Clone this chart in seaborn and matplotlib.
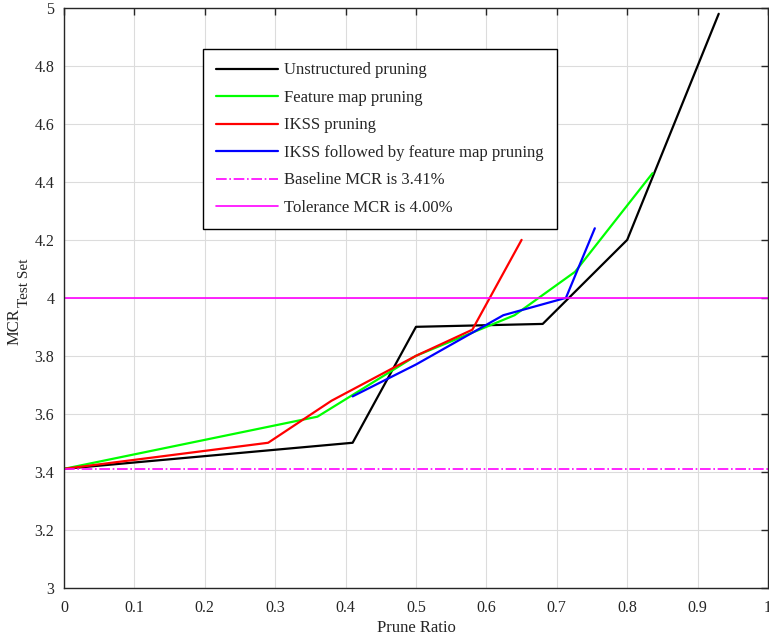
import pandas as pd
import seaborn as sns
import matplotlib.pyplot as plt

# values
unstructured_x = [0.0, 0.41, 0.50, 0.68, 0.80, 0.93]
unstructured_y = [3.41, 3.50, 3.90, 3.91, 4.20, 4.98]
featmap_x = [0.0, 0.36, 0.50, 0.64, 0.726, 0.836]
featmap_y = [3.41, 3.59, 3.80, 3.94, 4.09, 4.43]
ikss_x = [0.0, 0.29, 0.38, 0.50, 0.58, 0.65]
ikss_y = [3.41, 3.50, 3.645, 3.80, 3.89, 4.20]
ikss_fm_x = [0.41, 0.50, 0.624, 0.713, 0.754]
ikss_fm_y = [3.66, 3.77, 3.94, 4.00, 4.24]
baseline_mcr = 3.41
tolerance_mcr = 4.00

series_names = ["Unstructured pruning", "Feature map pruning", "IKSS pruning",
                "IKSS followed by feature map pruning"]
series_colors = ["#000000", "#00ff00", "#ff0000", "#0000ff"]

frames = []
for name, xs, ys in zip(series_names,
                        [unstructured_x, featmap_x, ikss_x, ikss_fm_x],
                        [unstructured_y, featmap_y, ikss_y, ikss_fm_y]):
    frames.append(pd.DataFrame({"ratio": xs, "mcr": ys, "method": name}))
df = pd.concat(frames, ignore_index=True)

sns.set_style("whitegrid")
plt.rcParams["font.family"] = ["Liberation Serif", "DejaVu Serif"]

fig = plt.figure(figsize=(7.69, 6.39), dpi=100)
ax = fig.add_axes([0.0832, 0.0803, 0.9155, 0.9072])

sns.lineplot(data=df, x="ratio", y="mcr", hue="method", hue_order=series_names,
             palette=series_colors, sort=False, estimator=None, linewidth=1.6, ax=ax)
ax.axhline(baseline_mcr, color="#ff00ff", linestyle="-.", linewidth=1.2,
           label="Baseline MCR is 3.41%")
ax.axhline(tolerance_mcr, color="#ff00ff", linestyle="-", linewidth=1.2,
           label="Tolerance MCR is 4.00%")

ax.set_xlim(0, 1)
ax.set_ylim(3, 5)
ax.set_xticks([i / 10 for i in range(11)])
ax.set_xticklabels(["0", "0.1", "0.2", "0.3", "0.4", "0.5", "0.6", "0.7", "0.8", "0.9", "1"])
ax.set_yticks([3 + i * 0.2 for i in range(11)])
ax.set_yticklabels(["3", "3.2", "3.4", "3.6", "3.8", "4", "4.2", "4.4", "4.6", "4.8", "5"])
ax.tick_params(direction="in", top=True, right=True, length=5, width=1,
               labelsize=11.5, colors="#262626")
ax.tick_params(axis="x", pad=9)
ax.tick_params(axis="y", pad=7)
ax.grid(True, color="#dcdcdc", linewidth=0.8)
for s in ax.spines.values():
    s.set_color("#262626")
    s.set_linewidth(1.0)

ax.set_xlabel("Prune Ratio", fontsize=12, labelpad=3, color="#262626")
ax.set_ylabel("")
# y label with a large MATLAB-style subscript
fig.text(15 / 769, 1 - 345 / 639, "MCR", rotation=90, ha="center", va="bottom",
         fontsize=12, color="#262626")
fig.text(25 / 769, 1 - 307 / 639, "Test Set", rotation=90, ha="center", va="bottom",
         fontsize=11, color="#262626")

leg = ax.legend(loc="upper left", bbox_to_anchor=(0.197, 0.929), borderaxespad=0,
                fontsize=12, frameon=True, fancybox=False, edgecolor="black",
                framealpha=1, handlelength=3.7, labelspacing=0.69, borderpad=0.8,
                handletextpad=0.4)
leg.get_frame().set_linewidth(1.0)

fig.savefig("out.png", dpi=100)
